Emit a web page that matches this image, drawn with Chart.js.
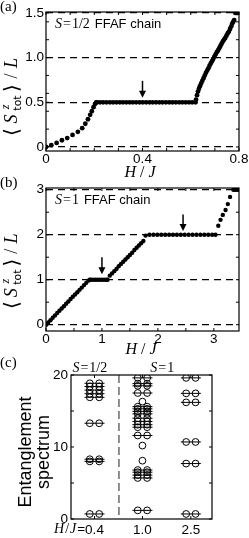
<!DOCTYPE html>
<html>
<head>
<meta charset="UTF-8"/>
<title>FFAF chain magnetization</title>
<script src="https://cdn.jsdelivr.net/npm/chart.js@4.4.2/dist/chart.umd.min.js"></script>
<style>
html,body{margin:0;background:#fff}
#wrap{position:relative;width:249px;height:538px}
canvas{position:absolute;left:0;top:0}
</style>
</head>
<body>
<div id="wrap">
<canvas id="ca" width="249" height="538"></canvas>
<canvas id="cb" width="249" height="538"></canvas>
<canvas id="cc" width="249" height="538"></canvas>
</div>
<script>
// (a) S=1/2 magnetization curve
const hA=[0,0.022,0.044,0.066,0.088,0.11,0.132,0.15,0.163,0.174,0.183,0.19,0.197,0.203,0.208,0.212,
  0.224,0.237,0.251,0.265,0.278,0.292,0.306,0.319,0.333,0.347,0.36,0.374,0.388,0.401,0.415,0.429,0.442,0.456,0.47,0.483,0.497,0.511,0.524,0.538,0.552,0.565,0.579,0.593,0.606,0.62,
  0.622,0.626,0.63,0.634,0.638,0.643,0.648,0.653,0.658,0.663,0.668,0.673,0.678,0.683,0.688,0.693,0.698,0.703,0.708,0.713,0.718,0.723,0.728,0.733,0.738,0.743,0.748,0.753,0.758,0.763,0.768,0.772,0.776,0.78,
  0.785,0.79,0.795,0.8];
const mA=[0,0.02,0.045,0.075,0.1,0.135,0.17,0.21,0.26,0.31,0.36,0.4,0.445,0.48,0.5,0.5,
  0.5,0.5,0.5,0.5,0.5,0.5,0.5,0.5,0.5,0.5,0.5,0.5,0.5,0.5,0.5,0.5,0.5,0.5,0.5,0.5,0.5,0.5,0.5,0.5,0.5,0.5,0.5,0.5,0.5,0.5,
  0.53,0.58,0.62,0.65,0.68,0.71,0.74,0.77,0.8,0.83,0.855,0.88,0.91,0.935,0.96,0.985,1.01,1.035,1.06,1.08,1.105,1.13,1.155,1.18,1.2,1.22,1.245,1.27,1.29,1.32,1.35,1.38,1.4,1.42,
  1.5,1.5,1.5,1.5];
const xTicksA=[0,0.4,0.8], xTickLabelsA=['0','0.4','0.8'];
const yTicksA=[0,0.5,1,1.5], yTickLabelsA=['0','0.5','1.0','1.5'];
const xMinorA=[0.1,0.2,0.3,0.5,0.6,0.7];
const yMinorA=[0.2,0.4,0.6,0.8,1.2,1.4];
const arrowsA=[[0.4,0.74,0.55]];

// (b) S=1 magnetization curve
const hB=[0,0.04,0.08,0.12,0.16,0.2,0.24,0.28,0.32,0.36,0.4,0.44,0.48,0.52,0.56,0.6,0.64,0.68,0.72,0.76,0.78,
  0.8,0.84,0.88,0.92,0.96,1.0,1.04,1.08,1.1,
  1.14,1.18,1.22,1.26,1.3,1.34,1.38,1.42,1.46,1.5,1.54,1.58,1.62,1.66,1.7,1.74,
  1.78,1.85,1.92,1.99,2.06,2.13,2.2,2.27,2.34,2.41,2.48,2.55,2.62,2.69,2.76,2.83,2.9,2.97,3.03,
  3.08,3.12,3.16,3.21,3.25,3.29,
  3.35,3.38,3.41,3.44];
const mB=[0,0.05,0.1,0.155,0.205,0.26,0.31,0.36,0.41,0.465,0.515,0.57,0.62,0.67,0.72,0.775,0.825,0.88,0.93,0.98,1.0,
  1,1,1,1,1,1,1,1,1,
  1.09,1.14,1.19,1.24,1.3,1.35,1.4,1.45,1.5,1.55,1.6,1.66,1.71,1.76,1.81,1.86,
  1.98,2,2,2,2,2,2,2,2,2,2,2,2,2,2,2,2,2,2,
  2.2,2.33,2.44,2.55,2.68,2.84,
  3,3,3,3];
const xTicksB=[0,1,2,3], xTickLabelsB=['0','1','2','3'];
const yTicksB=[0,1,2,3], yTickLabelsB=['0','1','2','3'];
const xMinorB=[0.5,1.5,2.5];
const yMinorB=[0.5,1.5,2.5];
const arrowsB=[[1.0,1.5,1.12],[2.45,2.45,2.08]];

// (c) entanglement spectrum
const colsC=[0.5,1.52,2.55], colLabelsC=['0.4','1.0','2.5'];
const levels04=[0.7,8.0,8.3,13.3,16.9,17.4,17.9,18.4,18.85];
const levels10=[1.2,5.7,6.1,6.5,6.8,11.6,12.75,13.1,13.55,14.0,14.6,14.95,15.3,15.6,17.5,18.5,18.8,19.6];
const singles10=[8.1,10.2,16.3];
const levels25=[0.7,7.7,10.7,16.2,17.45,19.6];
const yTicksC=[0,10,20], yTickLabelsC=['0','10','20'];
const yMinorC=[5,15];
const dividerC=1.02;

const SANS='"Liberation Sans", Arial, sans-serif';
const SERIF='"Liberation Serif", "DejaVu Serif", serif';
const tickFont={family:SANS,size:13.5};

function fixX(h){return s=>{s.height=h;s.paddingLeft=0;s.paddingRight=0;};}
function fixY(w){return s=>{s.width=w;s.paddingTop=0;s.paddingBottom=0;};}

function drawRuns(ctx,parts,x,y,align){
  let w=0;
  parts.forEach(p=>{ctx.font=p[1];w+=ctx.measureText(p[0]).width+(p[2]||0);});
  let cx=align==='center'?x-w/2:align==='right'?x-w:x;
  ctx.textAlign='left';
  parts.forEach(p=>{ctx.font=p[1];ctx.fillText(p[0],cx,y+(p[3]||0));cx+=ctx.measureText(p[0]).width+(p[2]||0);});
}

function frameTicks(ch,xt,yt,len){
  const {ctx,chartArea:a,scales:{x,y}}=ch;
  ctx.strokeStyle='#000';ctx.lineWidth=1.2;
  ctx.strokeRect(a.left,a.top,a.right-a.left,a.bottom-a.top);
  ctx.lineWidth=1;ctx.beginPath();
  xt.forEach(v=>{const p=x.getPixelForValue(v);ctx.moveTo(p,a.bottom);ctx.lineTo(p,a.bottom-len);ctx.moveTo(p,a.top);ctx.lineTo(p,a.top+len);});
  yt.forEach(v=>{const p=y.getPixelForValue(v);ctx.moveTo(a.left,p);ctx.lineTo(a.left+len,p);ctx.moveTo(a.right,p);ctx.lineTo(a.right-len,p);});
  ctx.stroke();
}

function arrows(ch,list){
  const {ctx,scales:{x,y}}=ch;
  list.forEach(([hx,y0,y1])=>{
    const px=x.getPixelForValue(hx),p0=y.getPixelForValue(y0),p1=y.getPixelForValue(y1);
    ctx.lineWidth=1.5;ctx.beginPath();ctx.moveTo(px,p0);ctx.lineTo(px,p1-5);ctx.stroke();
    ctx.beginPath();ctx.moveTo(px-3.5,p1-7);ctx.lineTo(px+3.5,p1-7);ctx.lineTo(px,p1);ctx.closePath();ctx.fill();
  });
}

// rotated <S^z_tot>/L
function magTitle(ctx,bx,yStart,k){
  ctx.save();ctx.translate(bx,yStart);ctx.rotate(-Math.PI/2);
  ctx.textAlign='center';ctx.textBaseline='alphabetic';ctx.fillStyle='#000';
  const g=[['\u27E8','20px "DejaVu Serif"',5,1],['S','italic 18px '+SERIF,18,0],['z','italic 12px '+SERIF,30,-8],
    ['tot','11px "DejaVu Sans"',34,4],['\u27E9','20px "DejaVu Serif"',49,1],['/','18px '+SERIF,61,0],['L','italic 18px '+SERIF,74,0]];
  g.forEach(([t,f,o,dy])=>{ctx.font=f;ctx.fillText(t,o*k,dy);});
  ctx.restore();
}

function hjTitle(ctx,cx,by){
  drawRuns(ctx,[['H','italic 16px '+SERIF,4],['/','16px '+SERIF,4],['J','italic 16px '+SERIF]],cx,by,'center');
}

function chainLabel(ctx,x,by,spin){
  drawRuns(ctx,[['S','italic 14px '+SERIF,1],['=','14px '+SERIF,1],[spin,'14px '+SERIF,5],['FFAF chain','13px '+SANS]],x,by,'left');
}

const basePlugins={legend:{display:false},tooltip:{enabled:false}};

function magChart(id,h,m,o){
  return new Chart(document.getElementById(id),{
    type:'scatter',
    data:{datasets:[{data:h.map((v,i)=>({x:v,y:m[i]})),backgroundColor:'#000',borderWidth:0,pointRadius:o.r,showLine:false}]},
    options:{
      responsive:false,animation:false,devicePixelRatio:1,events:[],
      layout:{padding:o.pad},
      plugins:basePlugins,
      scales:{
        x:{type:'linear',min:o.xmin,max:o.xmax,afterFit:fixX(24),
           afterBuildTicks:s=>{s.ticks=o.xt.map(v=>({value:v}));},
           grid:{display:false,drawTicks:false},border:{display:false},
           ticks:{font:tickFont,color:'#000',padding:0,maxRotation:0,callback:(v,i)=>o.xl[i]}},
        y:{type:'linear',min:o.ymin,max:o.ymax,afterFit:fixY(46),
           afterBuildTicks:s=>{s.ticks=o.yt.map(v=>({value:v}));},
           grid:{color:'#000',lineWidth:1.2,drawTicks:false},border:{display:false,dash:[7,5]},
           ticks:{font:tickFont,color:'#000',padding:2,callback:(v,i)=>o.yl[i]}}
      }
    },
    plugins:[{id:'deco',afterDraw(ch){
      const ctx=ch.ctx;ctx.save();ctx.fillStyle='#000';
      frameTicks(ch,o.xt.concat(o.xm),o.yt.concat(o.ym),3);
      arrows(ch,o.arrows);
      o.text(ctx);
      ctx.restore();
    }}]
  });
}

magChart('ca',hA,mA,{r:2.4,pad:{left:0,right:10,top:12,bottom:363},xmin:0,xmax:0.8,ymin:-0.045,ymax:1.51,
  xt:xTicksA,xl:xTickLabelsA,yt:yTicksA,yl:yTickLabelsA,xm:xMinorA,ym:yMinorA,arrows:arrowsA,
  text:ctx=>{
    ctx.font='15px '+SERIF;ctx.textAlign='left';ctx.fillText('(a)',0,11);
    chainLabel(ctx,55,28,'1/2');
    magTitle(ctx,17,137,1);
    hjTitle(ctx,140,177);
  }});

magChart('cb',hB,mB,{r:2.2,pad:{left:0,right:10,top:188,bottom:183},xmin:0,xmax:3.45,ymin:-0.14,ymax:3.038,
  xt:xTicksB,xl:xTickLabelsB,yt:yTicksB,yl:yTickLabelsB,xm:xMinorB,ym:yMinorB,arrows:arrowsB,
  text:ctx=>{
    ctx.font='15px '+SERIF;ctx.textAlign='left';ctx.fillText('(b)',0,187);
    chainLabel(ctx,55,204,'1');
    magTitle(ctx,17,310,0.965);
    hjTitle(ctx,141,354);
  }});

// (c)
const circlePts=[], linePts=[];
[[colsC[0],levels04],[colsC[1],levels10],[colsC[2],levels25]].forEach(([c,lv])=>{
  lv.forEach(v=>{circlePts.push({x:c-0.1,y:v},{x:c+0.1,y:v});linePts.push({x:c,y:v});});
});
singles10.forEach(v=>circlePts.push({x:colsC[1],y:v}));

new Chart(document.getElementById('cc'),{
  type:'scatter',
  data:{datasets:[
    {data:linePts,pointStyle:'line',pointRadius:10,borderColor:'#000',borderWidth:1,showLine:false},
    {data:circlePts,pointStyle:'circle',pointRadius:3.4,borderColor:'#000',backgroundColor:'rgba(0,0,0,0)',borderWidth:1,showLine:false}
  ]},
  options:{
    responsive:false,animation:false,devicePixelRatio:1,events:[],
    layout:{padding:{left:0,right:37,top:375,bottom:0}},
    plugins:basePlugins,
    scales:{
      x:{type:'linear',min:0,max:3,afterFit:fixX(19),
         afterBuildTicks:s=>{s.ticks=colsC.map(v=>({value:v}));},
         grid:{display:false,drawTicks:false},border:{display:false},
         ticks:{font:tickFont,color:'#000',padding:3,maxRotation:0,callback:(v,i)=>colLabelsC[i]}},
      y:{type:'linear',min:0,max:20,afterFit:fixY(71),
         afterBuildTicks:s=>{s.ticks=yTicksC.map(v=>({value:v}));},
         grid:{display:false,drawTicks:false},border:{display:false},
         ticks:{font:tickFont,color:'#000',padding:3,callback:(v,i)=>yTickLabelsC[i]}}
    }
  },
  plugins:[{id:'decoC',afterDraw(ch){
    const {ctx,chartArea:a,scales:{x}}=ch;
    ctx.save();ctx.fillStyle='#000';
    // divider between S=1/2 and S=1
    const dx=x.getPixelForValue(dividerC);
    ctx.strokeStyle='#444';ctx.lineWidth=1.2;ctx.setLineDash([8,4]);
    ctx.beginPath();ctx.moveTo(dx,a.top);ctx.lineTo(dx,a.bottom);ctx.stroke();ctx.setLineDash([]);
    frameTicks(ch,colsC,yTicksC.concat(yMinorC),3);
    ctx.font='15px '+SERIF;ctx.textAlign='left';ctx.fillText('(c)',0,367);
    drawRuns(ctx,[['S','italic 14px '+SERIF,1],['=','14px '+SERIF,1],['1/2','14px '+SERIF]],x.getPixelForValue(0.4),372,'center');
    drawRuns(ctx,[['S','italic 14px '+SERIF,1],['=','14px '+SERIF,1],['1','14px '+SERIF]],x.getPixelForValue(1.94),372,'center');
    // H/J= prefix before the first column label
    ctx.font='13.5px '+SANS;
    const w0=ctx.measureText(colLabelsC[0]).width;
    drawRuns(ctx,[['H','italic 14px '+SERIF,1],['/','14px '+SERIF,1],['J','italic 14px '+SERIF,1],['=','13.5px '+SANS]],x.getPixelForValue(colsC[0])-w0/2,533,'right');
    // y title
    ctx.save();ctx.translate(0,452);ctx.rotate(-Math.PI/2);
    ctx.textAlign='center';ctx.font='18px '+SANS;
    ctx.fillText('Entanglement',0,31);ctx.fillText('spectrum',0,49);
    ctx.restore();
    ctx.restore();
  }}]
});
</script>
</body>
</html>
